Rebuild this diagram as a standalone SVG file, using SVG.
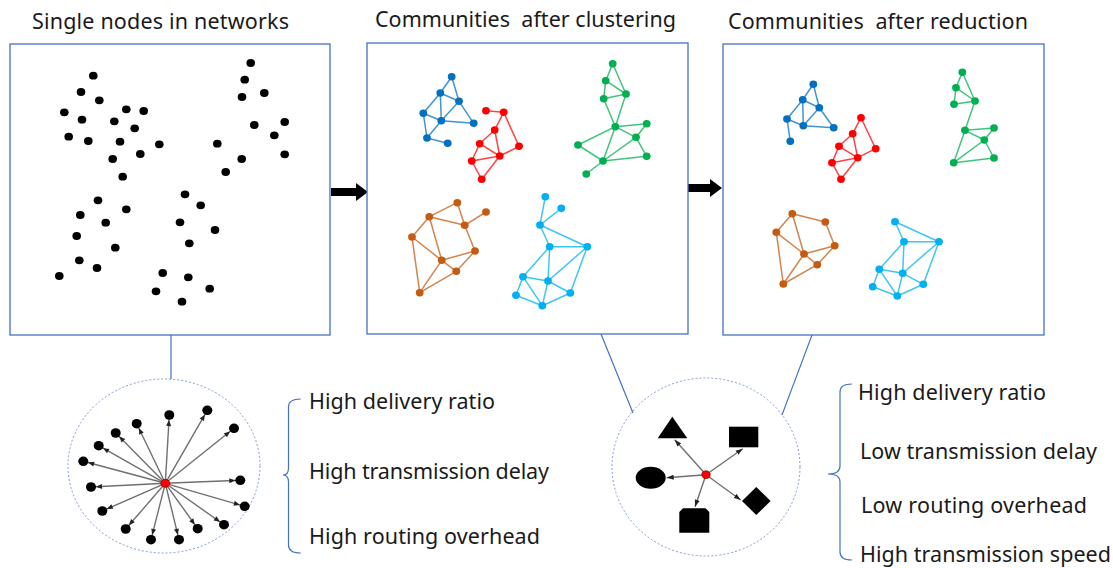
<svg xmlns="http://www.w3.org/2000/svg" width="1113" height="568" viewBox="0 0 1113 568">
<style>
.panel{fill:#fff;stroke:#4472C4;stroke-width:1.3}
.dot{fill:#000}
.t{font-family:"Noto Sans","Liberation Sans",sans-serif;font-size:21.5px;fill:#1a1a1a}
.blue line{stroke:#0070C0}.blue ellipse{fill:#0070C0}
.red line{stroke:#FF0000}.red ellipse{fill:#FF0000}
.green line{stroke:#00B050}.green ellipse{fill:#00B050}
.orange line{stroke:#C55A11}.orange ellipse{fill:#C55A11}
.cyan line{stroke:#00B0F0}.cyan ellipse{fill:#00B0F0}
.cl line{stroke-width:1.5;stroke-opacity:0.75}
.dash{fill:none;stroke:#7F9ED4;stroke-width:1;stroke-dasharray:2 2}
.link{stroke:#4472C4;stroke-width:1.2;fill:none}
.brace{fill:none;stroke:#4472C4;stroke-width:1.2}
.arr{stroke:#707070;stroke-width:1.4}
</style>
<defs>
<marker id="ah" markerUnits="userSpaceOnUse" viewBox="0 0 12 6" markerWidth="12" markerHeight="6" refX="12" refY="3" orient="auto">
<path d="M1,0.5 L7,3 L1,5.5 z" fill="#222"/>
</marker>
<marker id="ah2" markerUnits="userSpaceOnUse" viewBox="0 0 7 6" markerWidth="7" markerHeight="6" refX="7" refY="3" orient="auto">
<path d="M0,0.5 L7,3 L0,5.5 z" fill="#222"/>
</marker>
</defs>

<!-- titles -->
<g id="titles">
<text class="t" x="32" y="29" textLength="257">Single nodes in networks</text>
<text class="t" x="375" y="27" textLength="301" xml:space="preserve">Communities  after clustering</text>
<text class="t" x="728" y="29" textLength="300" xml:space="preserve">Communities  after reduction</text>
</g>

<!-- connectors -->
<g id="connectors">
<polygon points="331,188 356,188 356,183 368,192 356,201 356,196 331,196" fill="#000"/>
<polygon points="688,184 710,184 710,179 722,188 710,197 710,192 688,192" fill="#000"/>
<line class="link" x1="171" y1="335" x2="171" y2="379"/>
<line class="link" x1="601" y1="334" x2="633" y2="413"/>
<line class="link" x1="812" y1="335" x2="782" y2="415"/>
</g>

<!-- panel 1 -->
<g id="panel-single">
<rect class="panel" x="10" y="44" width="320" height="291"/>
<g class="dot">
<ellipse cx="93.3" cy="75.7" rx="4.3" ry="3.9"/><ellipse cx="81" cy="92" rx="4.3" ry="3.9"/><ellipse cx="99.3" cy="100.3" rx="4.3" ry="3.9"/><ellipse cx="64.3" cy="112.3" rx="4.3" ry="3.9"/>
<ellipse cx="82" cy="119.7" rx="4.3" ry="3.9"/><ellipse cx="126.3" cy="109.3" rx="4.3" ry="3.9"/><ellipse cx="143.7" cy="111" rx="4.3" ry="3.9"/><ellipse cx="114.3" cy="121.3" rx="4.3" ry="3.9"/>
<ellipse cx="134.7" cy="128.3" rx="4.3" ry="3.9"/><ellipse cx="68.7" cy="136.7" rx="4.3" ry="3.9"/><ellipse cx="88.3" cy="141" rx="4.3" ry="3.9"/><ellipse cx="120" cy="141.7" rx="4.3" ry="3.9"/>
<ellipse cx="159.3" cy="144.3" rx="4.3" ry="3.9"/><ellipse cx="140.3" cy="154" rx="4.3" ry="3.9"/><ellipse cx="112.7" cy="159" rx="4.3" ry="3.9"/><ellipse cx="122.7" cy="176.7" rx="4.3" ry="3.9"/>
<ellipse cx="250.7" cy="63" rx="4.3" ry="3.9"/><ellipse cx="244.7" cy="79.7" rx="4.3" ry="3.9"/><ellipse cx="242" cy="97" rx="4.3" ry="3.9"/><ellipse cx="264.3" cy="93" rx="4.3" ry="3.9"/>
<ellipse cx="254.3" cy="125" rx="4.3" ry="3.9"/><ellipse cx="284.7" cy="122" rx="4.3" ry="3.9"/><ellipse cx="274.3" cy="135.3" rx="4.3" ry="3.9"/><ellipse cx="217.3" cy="143.7" rx="4.3" ry="3.9"/>
<ellipse cx="284.7" cy="154.3" rx="4.3" ry="3.9"/><ellipse cx="241.7" cy="159" rx="4.3" ry="3.9"/><ellipse cx="225.7" cy="172" rx="4.3" ry="3.9"/>
<ellipse cx="98" cy="200.3" rx="4.3" ry="3.9"/><ellipse cx="126.3" cy="209.3" rx="4.3" ry="3.9"/><ellipse cx="80.3" cy="215" rx="4.3" ry="3.9"/><ellipse cx="105.7" cy="222.7" rx="4.3" ry="3.9"/>
<ellipse cx="76.7" cy="236" rx="4.3" ry="3.9"/><ellipse cx="115.3" cy="247.7" rx="4.3" ry="3.9"/><ellipse cx="79.3" cy="260.3" rx="4.3" ry="3.9"/><ellipse cx="97" cy="268" rx="4.3" ry="3.9"/>
<ellipse cx="59.3" cy="276" rx="4.3" ry="3.9"/><ellipse cx="162.7" cy="273" rx="4.3" ry="3.9"/><ellipse cx="156" cy="291.3" rx="4.3" ry="3.9"/>
<ellipse cx="185" cy="194.3" rx="4.3" ry="3.9"/><ellipse cx="200.7" cy="205.3" rx="4.3" ry="3.9"/><ellipse cx="180" cy="222.3" rx="4.3" ry="3.9"/><ellipse cx="215" cy="230" rx="4.3" ry="3.9"/>
<ellipse cx="189.3" cy="243.3" rx="4.3" ry="3.9"/><ellipse cx="188.3" cy="277.3" rx="4.3" ry="3.9"/><ellipse cx="209.7" cy="288.7" rx="4.3" ry="3.9"/><ellipse cx="182" cy="301.7" rx="4.3" ry="3.9"/>
</g>
</g>

<!-- panel 2 -->
<g id="panel-clustering">
<rect class="panel" x="367" y="43" width="321" height="291"/>
<g class="cl blue">
<line x1="451.7" y1="76.7" x2="440.3" y2="93"/><line x1="451.7" y1="76.7" x2="459" y2="101.3"/><line x1="440.3" y1="93" x2="459" y2="101.3"/>
<line x1="440.3" y1="93" x2="423.3" y2="113.3"/><line x1="440.3" y1="93" x2="441.3" y2="120.7"/><line x1="459" y1="101.3" x2="441.3" y2="120.7"/>
<line x1="423.3" y1="113.3" x2="441.3" y2="120.7"/><line x1="441.3" y1="120.7" x2="473.7" y2="123.3"/><line x1="459" y1="101.3" x2="473.7" y2="123.3"/>
<line x1="423.3" y1="113.3" x2="427" y2="138"/><line x1="441.3" y1="120.7" x2="427" y2="138"/><line x1="427" y1="138" x2="447.7" y2="143.3"/>
<ellipse cx="451.7" cy="76.7" rx="3.9" ry="3.7"/><ellipse cx="440.3" cy="93" rx="3.9" ry="3.7"/><ellipse cx="459" cy="101.3" rx="3.9" ry="3.7"/><ellipse cx="423.3" cy="113.3" rx="3.9" ry="3.7"/>
<ellipse cx="441.3" cy="120.7" rx="3.9" ry="3.7"/><ellipse cx="473.7" cy="123.3" rx="3.9" ry="3.7"/><ellipse cx="427" cy="138" rx="3.9" ry="3.7"/><ellipse cx="447.7" cy="143.3" rx="3.9" ry="3.7"/>
</g>
<g class="cl red">
<line x1="486" y1="110.7" x2="503.7" y2="112.3"/><line x1="503.7" y1="112.3" x2="494.7" y2="130"/><line x1="503.7" y1="112.3" x2="519" y2="146.3"/>
<line x1="494.7" y1="130" x2="479.7" y2="143.7"/><line x1="494.7" y1="130" x2="499.7" y2="156"/><line x1="479.7" y1="143.7" x2="499.7" y2="156"/>
<line x1="479.7" y1="143.7" x2="471.7" y2="161"/><line x1="471.7" y1="161" x2="499.7" y2="156"/><line x1="519" y1="146.3" x2="499.7" y2="156"/>
<line x1="499.7" y1="156" x2="481.7" y2="179.3"/><line x1="471.7" y1="161" x2="481.7" y2="179.3"/>
<ellipse cx="486" cy="110.7" rx="3.9" ry="3.7"/><ellipse cx="503.7" cy="112.3" rx="3.9" ry="3.7"/><ellipse cx="494.7" cy="130" rx="3.9" ry="3.7"/><ellipse cx="479.7" cy="143.7" rx="3.9" ry="3.7"/>
<ellipse cx="519" cy="146.3" rx="3.9" ry="3.7"/><ellipse cx="499.7" cy="156" rx="3.9" ry="3.7"/><ellipse cx="471.7" cy="161" rx="3.9" ry="3.7"/><ellipse cx="481.7" cy="179.3" rx="3.9" ry="3.7"/>
</g>
<g class="cl green">
<line x1="612.7" y1="63.7" x2="605.7" y2="80.7"/><line x1="612.7" y1="63.7" x2="626" y2="94"/><line x1="605.7" y1="80.7" x2="626" y2="94"/>
<line x1="605.7" y1="80.7" x2="603.7" y2="98.7"/><line x1="603.7" y1="98.7" x2="626" y2="94"/><line x1="603.7" y1="98.7" x2="615.3" y2="126.7"/><line x1="626" y1="94" x2="615.3" y2="126.7"/>
<line x1="615.3" y1="126.7" x2="646.7" y2="123.7"/><line x1="646.7" y1="123.7" x2="636" y2="137.3"/><line x1="615.3" y1="126.7" x2="636" y2="137.3"/>
<line x1="615.3" y1="126.7" x2="578" y2="145"/><line x1="615.3" y1="126.7" x2="603" y2="161"/><line x1="578" y1="145" x2="603" y2="161"/>
<line x1="636" y1="137.3" x2="603" y2="161"/><line x1="636" y1="137.3" x2="646.7" y2="156.3"/><line x1="603" y1="161" x2="646.7" y2="156.3"/><line x1="603" y1="161" x2="586.3" y2="174"/>
<ellipse cx="612.7" cy="63.7" rx="3.9" ry="3.7"/><ellipse cx="605.7" cy="80.7" rx="3.9" ry="3.7"/><ellipse cx="626" cy="94" rx="3.9" ry="3.7"/><ellipse cx="603.7" cy="98.7" rx="3.9" ry="3.7"/>
<ellipse cx="615.3" cy="126.7" rx="3.9" ry="3.7"/><ellipse cx="646.7" cy="123.7" rx="3.9" ry="3.7"/><ellipse cx="636" cy="137.3" rx="3.9" ry="3.7"/><ellipse cx="578" cy="145" rx="3.9" ry="3.7"/>
<ellipse cx="646.7" cy="156.3" rx="3.9" ry="3.7"/><ellipse cx="603" cy="161" rx="3.9" ry="3.7"/><ellipse cx="586.3" cy="174" rx="3.9" ry="3.7"/>
</g>
<g class="cl orange">
<line x1="457.3" y1="202.7" x2="429.3" y2="216.7"/><line x1="457.3" y1="202.7" x2="464.7" y2="225.3"/><line x1="429.3" y1="216.7" x2="464.7" y2="225.3"/>
<line x1="464.7" y1="225.3" x2="486" y2="212"/><line x1="429.3" y1="216.7" x2="412" y2="237"/><line x1="429.3" y1="216.7" x2="441.7" y2="260.3"/>
<line x1="412" y1="237" x2="441.7" y2="260.3"/><line x1="464.7" y1="225.3" x2="475" y2="251"/><line x1="475" y1="251" x2="441.7" y2="260.3"/>
<line x1="475" y1="251" x2="456.3" y2="271.3"/><line x1="441.7" y1="260.3" x2="456.3" y2="271.3"/><line x1="441.7" y1="260.3" x2="419.7" y2="292.7"/>
<line x1="412" y1="237" x2="419.7" y2="292.7"/><line x1="456.3" y1="271.3" x2="419.7" y2="292.7"/>
<ellipse cx="457.3" cy="202.7" rx="3.9" ry="3.7"/><ellipse cx="486" cy="212" rx="3.9" ry="3.7"/><ellipse cx="429.3" cy="216.7" rx="3.9" ry="3.7"/><ellipse cx="464.7" cy="225.3" rx="3.9" ry="3.7"/>
<ellipse cx="412" cy="237" rx="3.9" ry="3.7"/><ellipse cx="475" cy="251" rx="3.9" ry="3.7"/><ellipse cx="441.7" cy="260.3" rx="3.9" ry="3.7"/><ellipse cx="456.3" cy="271.3" rx="3.9" ry="3.7"/>
<ellipse cx="419.7" cy="292.7" rx="3.9" ry="3.7"/>
</g>
<g class="cl cyan">
<line x1="545.3" y1="196.7" x2="540" y2="225"/><line x1="561.3" y1="208.3" x2="540" y2="225"/><line x1="540" y1="225" x2="549.7" y2="246.7"/>
<line x1="540" y1="225" x2="587.3" y2="246.7"/><line x1="549.7" y1="246.7" x2="587.3" y2="246.7"/><line x1="549.7" y1="246.7" x2="523" y2="276.7"/>
<line x1="549.7" y1="246.7" x2="548" y2="281"/><line x1="587.3" y1="246.7" x2="548" y2="281"/><line x1="587.3" y1="246.7" x2="570.3" y2="293"/>
<line x1="523" y1="276.7" x2="548" y2="281"/><line x1="523" y1="276.7" x2="516" y2="295.3"/><line x1="523" y1="276.7" x2="542.3" y2="305.7"/>
<line x1="548" y1="281" x2="570.3" y2="293"/><line x1="548" y1="281" x2="542.3" y2="305.7"/><line x1="516" y1="295.3" x2="542.3" y2="305.7"/><line x1="542.3" y1="305.7" x2="570.3" y2="293"/>
<ellipse cx="545.3" cy="196.7" rx="3.9" ry="3.7"/><ellipse cx="561.3" cy="208.3" rx="3.9" ry="3.7"/><ellipse cx="540" cy="225" rx="3.9" ry="3.7"/><ellipse cx="549.7" cy="246.7" rx="3.9" ry="3.7"/>
<ellipse cx="587.3" cy="246.7" rx="3.9" ry="3.7"/><ellipse cx="523" cy="276.7" rx="3.9" ry="3.7"/><ellipse cx="548" cy="281" rx="3.9" ry="3.7"/><ellipse cx="570.3" cy="293" rx="3.9" ry="3.7"/>
<ellipse cx="542.3" cy="305.7" rx="3.9" ry="3.7"/><ellipse cx="516" cy="295.3" rx="3.9" ry="3.7"/>
</g>
</g>

<!-- panel 3 -->
<g id="panel-reduction">
<rect class="panel" x="723" y="44" width="321" height="291"/>
<g class="cl blue">
<line x1="813.3" y1="84.3" x2="802.7" y2="99.7"/><line x1="813.3" y1="84.3" x2="819.3" y2="107.7"/><line x1="802.7" y1="99.7" x2="819.3" y2="107.7"/>
<line x1="802.7" y1="99.7" x2="787" y2="119"/><line x1="802.7" y1="99.7" x2="803.3" y2="125.7"/><line x1="819.3" y1="107.7" x2="803.3" y2="125.7"/>
<line x1="787" y1="119" x2="803.3" y2="125.7"/><line x1="803.3" y1="125.7" x2="833.7" y2="127.7"/><line x1="819.3" y1="107.7" x2="833.7" y2="127.7"/><line x1="787" y1="119" x2="790.3" y2="141.3"/>
<ellipse cx="813.3" cy="84.3" rx="3.9" ry="3.7"/><ellipse cx="802.7" cy="99.7" rx="3.9" ry="3.7"/><ellipse cx="819.3" cy="107.7" rx="3.9" ry="3.7"/><ellipse cx="787" cy="119" rx="3.9" ry="3.7"/>
<ellipse cx="803.3" cy="125.7" rx="3.9" ry="3.7"/><ellipse cx="833.7" cy="127.7" rx="3.9" ry="3.7"/><ellipse cx="790.3" cy="141.3" rx="3.9" ry="3.7"/>
</g>
<g class="cl red">
<line x1="861" y1="117.7" x2="852.7" y2="133.7"/><line x1="861" y1="117.7" x2="875.7" y2="148.7"/><line x1="852.7" y1="133.7" x2="839" y2="146.3"/>
<line x1="852.7" y1="133.7" x2="857.7" y2="157.7"/><line x1="839" y1="146.3" x2="857.7" y2="157.7"/><line x1="839" y1="146.3" x2="832" y2="162.7"/>
<line x1="832" y1="162.7" x2="857.7" y2="157.7"/><line x1="875.7" y1="148.7" x2="857.7" y2="157.7"/><line x1="857.7" y1="157.7" x2="841" y2="179.3"/><line x1="832" y1="162.7" x2="841" y2="179.3"/>
<ellipse cx="861" cy="117.7" rx="3.9" ry="3.7"/><ellipse cx="852.7" cy="133.7" rx="3.9" ry="3.7"/><ellipse cx="839" cy="146.3" rx="3.9" ry="3.7"/><ellipse cx="875.7" cy="148.7" rx="3.9" ry="3.7"/>
<ellipse cx="857.7" cy="157.7" rx="3.9" ry="3.7"/><ellipse cx="832" cy="162.7" rx="3.9" ry="3.7"/><ellipse cx="841" cy="179.3" rx="3.9" ry="3.7"/>
</g>
<g class="cl green">
<line x1="962.3" y1="72.3" x2="956" y2="87.7"/><line x1="962.3" y1="72.3" x2="975" y2="101"/><line x1="956" y1="87.7" x2="975" y2="101"/>
<line x1="956" y1="87.7" x2="954" y2="104.3"/><line x1="954" y1="104.3" x2="975" y2="101"/><line x1="975" y1="101" x2="965" y2="130.3"/>
<line x1="965" y1="130.3" x2="994" y2="128"/><line x1="994" y1="128" x2="984.3" y2="140"/><line x1="965" y1="130.3" x2="984.3" y2="140"/>
<line x1="965" y1="130.3" x2="953.7" y2="162.7"/><line x1="984.3" y1="140" x2="953.7" y2="162.7"/><line x1="953.7" y1="162.7" x2="994" y2="158"/><line x1="984.3" y1="140" x2="994" y2="158"/>
<ellipse cx="962.3" cy="72.3" rx="3.9" ry="3.7"/><ellipse cx="956" cy="87.7" rx="3.9" ry="3.7"/><ellipse cx="975" cy="101" rx="3.9" ry="3.7"/><ellipse cx="954" cy="104.3" rx="3.9" ry="3.7"/>
<ellipse cx="965" cy="130.3" rx="3.9" ry="3.7"/><ellipse cx="994" cy="128" rx="3.9" ry="3.7"/><ellipse cx="984.3" cy="140" rx="3.9" ry="3.7"/><ellipse cx="994" cy="158" rx="3.9" ry="3.7"/>
<ellipse cx="953.7" cy="162.7" rx="3.9" ry="3.7"/>
</g>
<g class="cl orange">
<line x1="792.3" y1="213.7" x2="825.3" y2="222"/><line x1="792.3" y1="213.7" x2="776.3" y2="232.3"/><line x1="792.3" y1="213.7" x2="804" y2="254"/>
<line x1="825.3" y1="222" x2="834.7" y2="245.7"/><line x1="776.3" y1="232.3" x2="804" y2="254"/><line x1="776.3" y1="232.3" x2="783.3" y2="284"/>
<line x1="804" y1="254" x2="834.7" y2="245.7"/><line x1="834.7" y1="245.7" x2="817.3" y2="264.7"/><line x1="804" y1="254" x2="817.3" y2="264.7"/>
<line x1="804" y1="254" x2="783.3" y2="284"/><line x1="817.3" y1="264.7" x2="783.3" y2="284"/>
<ellipse cx="792.3" cy="213.7" rx="3.9" ry="3.7"/><ellipse cx="825.3" cy="222" rx="3.9" ry="3.7"/><ellipse cx="776.3" cy="232.3" rx="3.9" ry="3.7"/><ellipse cx="834.7" cy="245.7" rx="3.9" ry="3.7"/>
<ellipse cx="804" cy="254" rx="3.9" ry="3.7"/><ellipse cx="817.3" cy="264.7" rx="3.9" ry="3.7"/><ellipse cx="783.3" cy="284" rx="3.9" ry="3.7"/>
</g>
<g class="cl cyan">
<line x1="895" y1="221.7" x2="904" y2="241.7"/><line x1="895" y1="221.7" x2="939" y2="241.7"/><line x1="904" y1="241.7" x2="939" y2="241.7"/>
<line x1="904" y1="241.7" x2="879.3" y2="269.3"/><line x1="904" y1="241.7" x2="902.7" y2="273.3"/><line x1="939" y1="241.7" x2="902.7" y2="273.3"/>
<line x1="939" y1="241.7" x2="923.3" y2="284.3"/><line x1="879.3" y1="269.3" x2="902.7" y2="273.3"/><line x1="879.3" y1="269.3" x2="872.7" y2="286.7"/>
<line x1="879.3" y1="269.3" x2="897.3" y2="296"/><line x1="902.7" y1="273.3" x2="923.3" y2="284.3"/><line x1="902.7" y1="273.3" x2="897.3" y2="296"/>
<line x1="872.7" y1="286.7" x2="897.3" y2="296"/><line x1="897.3" y1="296" x2="923.3" y2="284.3"/>
<ellipse cx="895" cy="221.7" rx="3.9" ry="3.7"/><ellipse cx="904" cy="241.7" rx="3.9" ry="3.7"/><ellipse cx="939" cy="241.7" rx="3.9" ry="3.7"/><ellipse cx="879.3" cy="269.3" rx="3.9" ry="3.7"/>
<ellipse cx="902.7" cy="273.3" rx="3.9" ry="3.7"/><ellipse cx="923.3" cy="284.3" rx="3.9" ry="3.7"/><ellipse cx="872.7" cy="286.7" rx="3.9" ry="3.7"/><ellipse cx="897.3" cy="296" rx="3.9" ry="3.7"/>
</g>
</g>

<!-- circle 1: flooding -->
<g id="zoom-single">
<ellipse class="dash" cx="164" cy="466" rx="96" ry="87"/>
<g class="arr" marker-end="url(#ah)">
<line x1="165.3" y1="483.3" x2="169.3" y2="415"/><line x1="165.3" y1="483.3" x2="207.3" y2="410.3"/><line x1="165.3" y1="483.3" x2="136.7" y2="423.7"/>
<line x1="165.3" y1="483.3" x2="234" y2="428.3"/><line x1="165.3" y1="483.3" x2="115.7" y2="433"/><line x1="165.3" y1="483.3" x2="98.7" y2="445.7"/>
<line x1="165.3" y1="483.3" x2="83.3" y2="461.3"/><line x1="165.3" y1="483.3" x2="240.3" y2="480.3"/><line x1="165.3" y1="483.3" x2="91" y2="487"/>
<line x1="165.3" y1="483.3" x2="244.7" y2="506.3"/><line x1="165.3" y1="483.3" x2="102.3" y2="511"/><line x1="165.3" y1="483.3" x2="224" y2="524.7"/>
<line x1="165.3" y1="483.3" x2="125.7" y2="529"/><line x1="165.3" y1="483.3" x2="197.7" y2="528.7"/><line x1="165.3" y1="483.3" x2="151" y2="539.7"/>
<line x1="165.3" y1="483.3" x2="179" y2="539.7"/>
</g>
<g class="dot">
<ellipse cx="169.3" cy="415" rx="5" ry="4.8"/><ellipse cx="207.3" cy="410.3" rx="5" ry="4.8"/><ellipse cx="136.7" cy="423.7" rx="5" ry="4.8"/><ellipse cx="234" cy="428.3" rx="5" ry="4.8"/>
<ellipse cx="115.7" cy="433" rx="5" ry="4.8"/><ellipse cx="98.7" cy="445.7" rx="5" ry="4.8"/><ellipse cx="83.3" cy="461.3" rx="5" ry="4.8"/><ellipse cx="240.3" cy="480.3" rx="5" ry="4.8"/>
<ellipse cx="91" cy="487" rx="5" ry="4.8"/><ellipse cx="244.7" cy="506.3" rx="5" ry="4.8"/><ellipse cx="102.3" cy="511" rx="5" ry="4.8"/><ellipse cx="224" cy="524.7" rx="5" ry="4.8"/>
<ellipse cx="125.7" cy="529" rx="5" ry="4.8"/><ellipse cx="197.7" cy="528.7" rx="5" ry="4.8"/><ellipse cx="151" cy="539.7" rx="5" ry="4.8"/><ellipse cx="179" cy="539.7" rx="5" ry="4.8"/>
</g>
<ellipse cx="165.3" cy="483.3" rx="4.5" ry="4" fill="#FF0000" stroke="#600" stroke-width="0.6"/>
</g>

<!-- circle 2: community routing -->
<g id="zoom-community">
<ellipse class="dash" cx="706" cy="467" rx="94" ry="89"/>
<g class="arr" marker-end="url(#ah2)">
<line x1="706" y1="474.7" x2="674.7" y2="439.7"/>
<line x1="706" y1="474.7" x2="742.7" y2="448.7"/>
<line x1="706" y1="474.7" x2="666.7" y2="477.7"/>
<line x1="706" y1="474.7" x2="740.7" y2="500"/>
<line x1="706" y1="474.7" x2="695" y2="506.7"/>
</g>
<polygon points="672.3,416.7 657.7,438.3 687.3,438.3" fill="#000"/>
<rect x="729" y="426.7" width="29.3" height="20.6" fill="#000"/>
<ellipse cx="650.7" cy="477.7" rx="15" ry="11" fill="#000"/>
<polygon points="756.3,487 770.6,501 756.3,515 742,501" fill="#000"/>
<path d="M683,508.3 H705.6 L709.3,512 V532.7 H679.3 V512 Z" fill="#000"/>
<ellipse cx="706" cy="474.7" rx="4.3" ry="4" fill="#FF0000" stroke="#600" stroke-width="0.6"/>
</g>

<!-- left properties -->
<g id="props-single">
<path class="brace" d="M300.7,399 Q288.5,399 288.5,407 V468 Q288.5,475 283,475 Q288.5,475 288.5,482 V545 Q288.5,553 300.7,553"/>
<text class="t" x="309" y="409" textLength="186">High delivery ratio</text>
<text class="t" x="309" y="479" textLength="240">High transmission delay</text>
<text class="t" x="309" y="544" textLength="231">High routing overhead</text>
</g>

<!-- right properties -->
<g id="props-community">
<path class="brace" d="M852,384 Q840,384 840,392 V466 Q840,474 828,474 Q840,474 840,482 V552 Q840,560 852,560"/>
<text class="t" x="858" y="400" textLength="188">High delivery ratio</text>
<text class="t" x="860" y="459" textLength="237">Low transmission delay</text>
<text class="t" x="861" y="513" textLength="226">Low routing overhead</text>
<text class="t" x="860" y="562" textLength="251">High transmission speed</text>
</g>
</svg>
